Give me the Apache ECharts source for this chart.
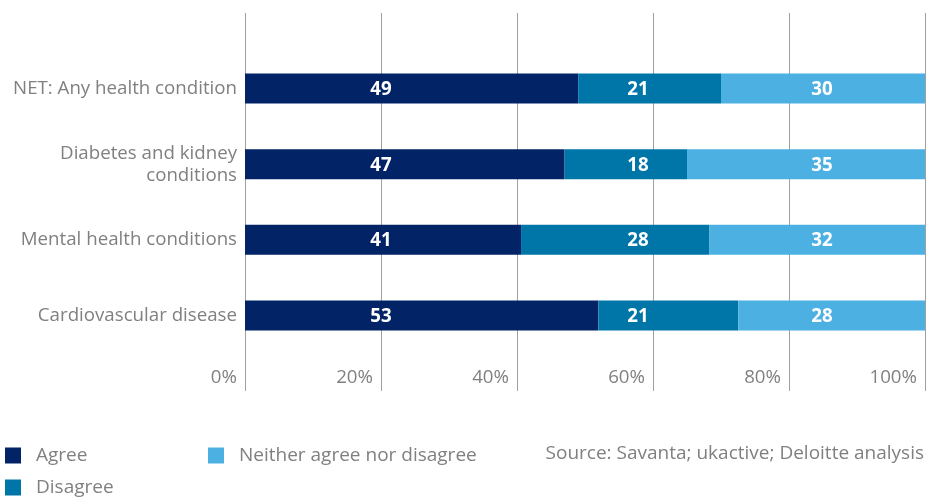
<!DOCTYPE html>
<html>
<head>
<meta charset="utf-8">
<script src="https://cdn.jsdelivr.net/npm/echarts@6/dist/echarts.min.js"></script>
<style>html,body{margin:0;padding:0;background:#fff}#c{width:926px;height:498px}</style>
</head>
<body>
<div id="c"></div>
<script>
const categories = ["NET: Any health condition", "Diabetes and kidney\nconditions", "Mental health conditions", "Cardiovascular disease"];
const agree = [49, 47, 41, 53];
const disagree = [21, 18, 28, 21];
const neither = [30, 35, 32, 28];
const xTicks = ["0%", "20%", "40%", "60%", "80%", "100%"];
const seriesNames = ["Agree", "Disagree", "Neither agree nor disagree"];
const colors = ["#022366", "#0076A8", "#4CB1E2"];
const sourceText = "Source: Savanta; ukactive; Deloitte analysis";

const totals = agree.map((v, i) => v + disagree[i] + neither[i]);
const yCats = [""].concat(categories, [""]);
function mk(raw) {
  return [null].concat(raw.map((v, i) => v / totals[i] * 100), [null]);
}
const FONT = "'Open Sans', sans-serif";
const GRAY = "#808080";
// label anchor columns (in axis % units) used by the original layout
const labelAnchors = [20, 57.8, 84.85];
// legend slots: [left, top]
const legendSlots = [[5, 446], [5, 478], [208, 446]];

const series = [];
[agree, disagree, neither].forEach((arr, k) => {
  series.push({
    name: seriesNames[k],
    type: "bar",
    stack: "s",
    barWidth: 30,
    itemStyle: { color: colors[k] },
    emphasis: { disabled: true },
    data: mk(arr)
  });
});
[agree, disagree, neither].forEach((arr, k) => {
  series.push({
    name: "lbl" + k,
    type: "scatter",
    symbolSize: 1,
    itemStyle: { color: "rgba(0,0,0,0)", opacity: 1 },
    z: 5,
    silent: true,
    emphasis: { disabled: true },
    label: {
      show: true, position: "inside", color: "#ffffff", fontFamily: FONT,
      fontWeight: "bold", fontSize: 18.7, offset: [0, 1],
      textBorderWidth: 0, textShadowBlur: 0, opacity: 1,
      formatter: p => String(p.value[2])
    },
    data: arr.map((v, i) => [labelAnchors[k], i + 1, v])
  });
});

const legends = seriesNames.map((n, k) => ({
  data: [n], left: legendSlots[k][0], top: legendSlots[k][1], padding: 0,
  itemWidth: 16, itemHeight: 16, icon: "rect",
  textStyle: { color: GRAY, fontSize: 19, lineHeight: 16, fontFamily: FONT, padding: [0, 0, 0, 10] },
  selectedMode: false
}));

const chart = echarts.init(document.getElementById("c"), null, { renderer: "canvas" });
chart.setOption({
  animation: false,
  textStyle: { fontFamily: FONT },
  grid: { left: 245, right: 1, top: 13, bottom: 107, containLabel: false },
  xAxis: {
    type: "value", min: 0, max: 100, interval: 20,
    axisLine: { show: false }, axisTick: { show: false },
    splitLine: { show: true, lineStyle: { color: "#a0a0a0", width: 1 } },
    axisLabel: {
      inside: true, margin: 13, align: "right", padding: [0, 8, 0, 0],
      verticalAlign: "middle", color: GRAY, fontSize: 18.7, fontFamily: FONT,
      formatter: v => xTicks[Math.round(v / 20)]
    }
  },
  yAxis: {
    type: "category", data: yCats, inverse: true, boundaryGap: false,
    axisLine: { show: false }, axisTick: { show: false },
    splitLine: { show: false },
    axisLabel: { color: GRAY, fontSize: 18.7, fontFamily: FONT, margin: 8, lineHeight: 22, align: "right" }
  },
  legend: legends,
  title: {
    text: sourceText, right: 2, top: 444, padding: 0,
    textStyle: { color: GRAY, fontSize: 19, fontWeight: "normal", fontFamily: FONT }
  },
  series: series
});
</script>
</body>
</html>
